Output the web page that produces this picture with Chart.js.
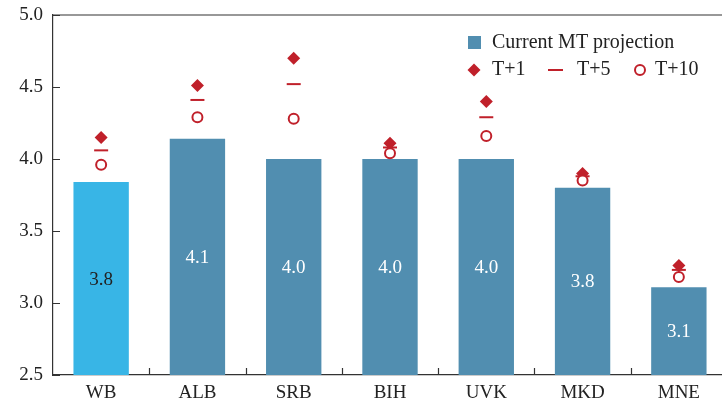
<!DOCTYPE html>
<html>
<head>
<meta charset="utf-8">
<script src="https://cdn.jsdelivr.net/npm/chart.js@4"></script>
<style>
  html, body { margin: 0; padding: 0; background: #fff; overflow: hidden; }
  #wrap { width: 736px; height: 404px; }
</style>
</head>
<body>
<div id="wrap"><canvas id="myChart" width="736" height="404"></canvas></div>
<script>
// data
var categories = ['WB', 'ALB', 'SRB', 'BIH', 'UVK', 'MKD', 'MNE'];
var currentMT = [3.84, 4.14, 4.00, 4.00, 4.00, 3.80, 3.11];
var tPlus1 = [4.15, 4.51, 4.70, 4.11, 4.40, 3.90, 3.26];
var tPlus5 = [4.06, 4.41, 4.52, 4.08, 4.29, 3.88, 3.23];
var tPlus10 = [3.96, 4.29, 4.28, 4.04, 4.16, 3.85, 3.18];
var yTicks = [2.5, 3.0, 3.5, 4.0, 4.5, 5.0];

var RED = '#C0202A';
var BLUE = '#518EB0';
var LIGHT_BLUE = '#38B5E6';
var AXIS = '#333333';
var FONT = '"Liberation Serif", "DejaVu Serif", serif';

// bar value labels, centred inside each bar
var barLabels = {
    id: 'barLabels',
    afterDraw: function (chart) {
        var ctx = chart.ctx;
        var xs = chart.scales.x, ys = chart.scales.y;
        var bottom = chart.chartArea.bottom;
        ctx.save();
        ctx.font = '19px ' + FONT;
        ctx.textAlign = 'center';
        ctx.textBaseline = 'middle';
        currentMT.forEach(function (v, i) {
            var top = ys.getPixelForValue(v);
            ctx.fillStyle = i === 0 ? '#222222' : '#ffffff';
            ctx.fillText(v.toFixed(1), xs.getPixelForValue(i), (top + bottom) / 2 + 1);
        });
        ctx.restore();
    }
};

// inward tick marks + top frame line
var frame = {
    id: 'frame',
    afterDraw: function (chart) {
        var ctx = chart.ctx, a = chart.chartArea;
        var xs = chart.scales.x, ys = chart.scales.y;
        ctx.save();
        ctx.strokeStyle = AXIS;
        ctx.lineWidth = 1.2;
        ctx.beginPath();
        ctx.moveTo(a.left, a.top);
        ctx.lineTo(a.right, a.top);
        yTicks.forEach(function (v) {
            var y = Math.round(ys.getPixelForValue(v)) + 0.5;
            ctx.moveTo(a.left, y);
            ctx.lineTo(a.left + 7, y);
        });
        var step = xs.getPixelForValue(1) - xs.getPixelForValue(0);
        for (var i = 0; i < categories.length - 1; i++) {
            var x = Math.round(xs.getPixelForValue(i) + step / 2) + 0.5;
            ctx.moveTo(x, a.bottom);
            ctx.lineTo(x, a.bottom - 7);
        }
        ctx.stroke();
        ctx.restore();
    }
};

// legend drawn by hand to get the two-row layout
var legendBox = {
    id: 'legendBox',
    afterDraw: function (chart) {
        var ctx = chart.ctx;
        var ds = chart.data.datasets;
        ctx.save();
        ctx.font = '20px ' + FONT;
        ctx.textBaseline = 'middle';
        // row 1
        ctx.fillStyle = BLUE;
        ctx.fillRect(468, 36, 13, 13);
        ctx.fillStyle = '#222222';
        ctx.fillText(ds[0].label, 492, 43);
        // row 2
        var y = 70;
        ctx.fillStyle = RED;
        ctx.beginPath();
        ctx.moveTo(474, y - 6.5); ctx.lineTo(480.5, y); ctx.lineTo(474, y + 6.5); ctx.lineTo(467.5, y);
        ctx.closePath();
        ctx.fill();
        ctx.fillStyle = '#222222';
        ctx.fillText(ds[1].label, 492, y);
        ctx.strokeStyle = RED;
        ctx.lineWidth = 2;
        ctx.beginPath();
        ctx.moveTo(548, y); ctx.lineTo(563, y);
        ctx.stroke();
        ctx.fillText(ds[2].label, 577, y);
        ctx.beginPath();
        ctx.arc(640, y, 5, 0, Math.PI * 2);
        ctx.stroke();
        ctx.fillText(ds[3].label, 655, y);
        ctx.restore();
    }
};

document.addEventListener('DOMContentLoaded', function () {
    var ctx = document.getElementById('myChart').getContext('2d');
    var markerBase = { type: 'line', showLine: false, borderColor: RED, backgroundColor: RED };
    new Chart(ctx, {
        type: 'bar',
        data: {
            labels: categories,
            datasets: [{
                label: 'Current MT projection',
                data: currentMT,
                backgroundColor: currentMT.map(function (v, i) { return i === 0 ? LIGHT_BLUE : BLUE; }),
                barPercentage: 0.575,
                categoryPercentage: 1.0,
                order: 10
            }, Object.assign({}, markerBase, {
                label: 'T+1',
                data: tPlus1,
                pointStyle: 'rectRot',
                pointRadius: 6.5,
                pointBorderWidth: 0,
                order: 3
            }), Object.assign({}, markerBase, {
                label: 'T+5',
                data: tPlus5,
                pointStyle: 'line',
                pointRadius: 7,
                pointBorderWidth: 2,
                order: 2
            }), Object.assign({}, markerBase, {
                label: 'T+10',
                data: tPlus10,
                pointStyle: 'circle',
                pointRadius: 5,
                pointBorderWidth: 2,
                pointBackgroundColor: '#ffffff',
                order: 1
            })]
        },
        options: {
            responsive: false,
            animation: false,
            layout: { padding: { top: 15, right: 1, left: 0, bottom: 0 } },
            scales: {
                x: {
                    offset: true,
                    grid: { display: false, drawTicks: false },
                    border: { display: true, color: AXIS, width: 1.2 },
                    ticks: { color: '#222222', font: { family: FONT, size: 19 }, padding: 7 },
                    afterFit: function (scale) { scale.height = 29; }
                },
                y: {
                    min: 2.5,
                    max: 5.0,
                    grid: { display: false, drawTicks: false },
                    border: { display: true, color: AXIS, width: 1.2 },
                    ticks: {
                        stepSize: 0.5,
                        padding: 10,
                        color: '#222222',
                        font: { family: FONT, size: 19, lineHeight: 0.8 },
                        callback: function (v) { return Number(v).toFixed(1); }
                    },
                    afterFit: function (scale) {
                        scale.width = 53;
                        scale.paddingTop = 0;
                        scale.paddingBottom = 0;
                    }
                }
            },
            plugins: {
                legend: { display: false },
                tooltip: { enabled: false }
            }
        },
        plugins: [barLabels, frame, legendBox]
    });
});
</script>
</body>
</html>
